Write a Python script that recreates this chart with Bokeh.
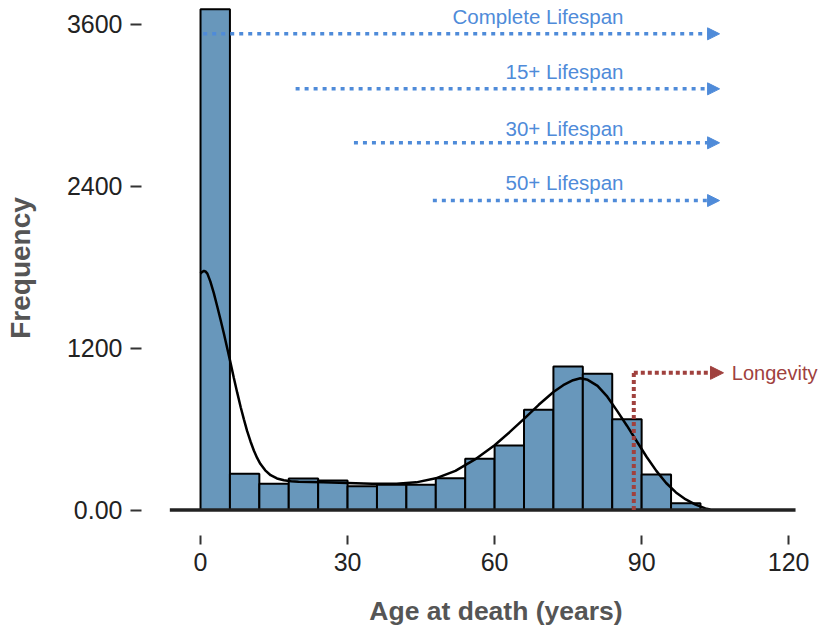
from bokeh.plotting import figure
from bokeh.models import FixedTicker, Arrow, NormalHead, Label, ColumnDataSource, Range1d
from bokeh.embed import file_html
from bokeh.resources import INLINE

# ---------------- data ----------------
bin_left = [0, 6, 12, 18, 24, 30, 36, 42, 48, 54, 60, 66, 72, 78, 84, 90, 96]
bin_right = [6, 12, 18, 24, 30, 36, 42, 48, 54, 60, 66, 72, 78, 84, 90, 96, 102]
counts = [3712, 268, 194, 233, 219, 176, 187, 187, 236, 380, 478, 743, 1064, 1010, 673, 263, 50]

kde_age = [0, 0.35, 0.7, 1.0, 1.4, 2.0, 2.7, 3.4, 4.1, 4.8, 5.4, 6.0, 6.8, 7.5, 8.2, 8.85, 9.5, 10.2,
           10.9, 11.55, 12.2, 13.2, 14.3, 15.6, 17, 18.5, 20, 25, 30, 35, 40, 44, 48, 52, 56, 60, 63,
           66, 69, 72, 74, 76, 77.5, 79, 81, 83, 85, 87, 89, 91, 93, 95, 97, 99, 101, 103, 104]
kde_val = [1752, 1766, 1772, 1769, 1752, 1695, 1610, 1510, 1408, 1303, 1207, 1111, 979, 868, 762, 672, 586, 508,
           439, 386, 342, 294, 258, 234, 220, 214, 210, 205, 200, 195, 195, 205, 235, 290, 375, 480, 575,
           675, 780, 875, 925, 962, 977, 965, 920, 840, 735, 625, 510, 395, 290, 200, 130, 78, 40, 12, 4]

baseline_x = [-6.3, 121.4]
baseline_y = [0, 0]

span_labels = ["Complete Lifespan", "15+ Lifespan", "30+ Lifespan", "50+ Lifespan"]
span_start = [0.55, 19.4, 31.3, 47.4]
span_end = [105.9, 105.9, 105.9, 105.9]
span_line_y = [3530, 3122, 2722, 2294]
span_text_x = [86.3, 86.3, 86.3, 86.3]
span_text_y = [3658, 3251, 2828, 2431]

longevity_age = 88.4
longevity_y = 1017
longevity_tip = 106.7
longevity_label = "Longevity"
longevity_text_x = 108.4

x_ticks = [0, 30, 60, 90, 120]
y_ticks = [0, 1200, 2400, 3600]
y_tick_overrides = {0: "0.00"}

x_title = "Age at death (years)"
y_title = "Frequency"

# ---------------- styles ----------------
BAR = "#6897bb"
BLUE = "#4f8bd9"
RED = "#a0413e"
FONT = "Liberation Sans"
GREY = "#555555"

# frame starts where the baseline starts; the y axis sits detached to its left (offset ticks)
p = figure(width=822, height=632, output_backend="svg", toolbar_location=None,
           x_range=Range1d(-6.33, 126.9), y_range=Range1d(-189, 3777),
           min_border_left=169, min_border_right=0, min_border_top=0, min_border_bottom=97)
p.outline_line_color = None
p.xgrid.visible = False
p.ygrid.visible = False
p.background_fill_color = "white"

src = ColumnDataSource(dict(left=bin_left, right=bin_right, top=counts, bottom=[0] * len(counts)))
p.quad(left="left", right="right", top="top", bottom="bottom", source=src,
       fill_color=BAR, line_color="black", line_width=2)

p.line(kde_age, kde_val, line_color="black", line_width=2.5)
p.line(baseline_x, baseline_y, line_color="#222222", line_width=3.5)

for lab, xs, xe, ly, tx, ty in zip(span_labels, span_start, span_end, span_line_y, span_text_x, span_text_y):
    p.add_layout(Arrow(x_start=xs, y_start=ly, x_end=xe, y_end=ly,
                       line_color=BLUE, line_width=3.5, line_dash="4 5",
                       end=NormalHead(size=12, fill_color=BLUE, line_color=BLUE, line_width=1)))
    p.add_layout(Label(x=tx, y=ty, text=lab, text_align="right", text_baseline="middle",
                       text_color=BLUE, text_font=FONT, text_font_size="20.5px"))

p.line([longevity_age, longevity_age], [0, longevity_y], line_color=RED, line_width=4, line_dash="4 3")
p.add_layout(Arrow(x_start=longevity_age, y_start=longevity_y, x_end=longevity_tip, y_end=longevity_y,
                   line_color=RED, line_width=4, line_dash="4 3",
                   end=NormalHead(size=13, fill_color=RED, line_color=RED, line_width=1)))
p.add_layout(Label(x=longevity_text_x, y=longevity_y, text=longevity_label, text_align="left",
                   text_baseline="middle", text_color=RED, text_font=FONT, text_font_size="20px"))

# axes
p.xaxis.ticker = FixedTicker(ticks=x_ticks)
p.yaxis.ticker = FixedTicker(ticks=y_ticks)
p.yaxis.major_label_overrides = y_tick_overrides
for ax in (p.xaxis, p.yaxis):
    ax.axis_line_color = None
    ax.minor_tick_line_color = None
    ax.major_tick_line_color = "#333333"
    ax.major_tick_line_width = 2
    ax.major_label_text_font = FONT
    ax.major_label_text_font_size = "25px"
    ax.major_label_text_color = "#222222"
    ax.major_label_standoff = 8
    ax.axis_label_text_font = FONT
    ax.axis_label_text_font_style = "bold"
    ax.axis_label_text_color = GREY
p.xaxis.major_tick_in = 0
p.xaxis.major_tick_out = 9
p.yaxis.major_tick_in = -28
p.yaxis.major_tick_out = 39

p.xaxis.axis_label = x_title
p.xaxis.axis_label_text_font_size = "26.5px"
p.xaxis.axis_label_standoff = 22
p.yaxis.axis_label = y_title
p.yaxis.axis_label_text_font_size = "28px"
p.yaxis.axis_label_standoff = 28

open("out.html", "w").write(file_html(p, INLINE))
